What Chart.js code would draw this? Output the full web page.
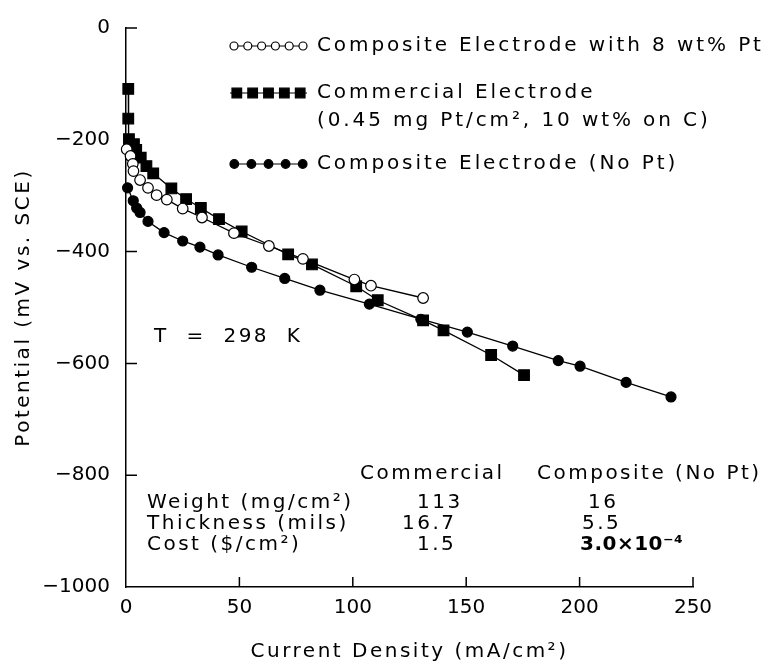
<!DOCTYPE html>
<html>
<head>
<meta charset="utf-8">
<script src="https://cdn.jsdelivr.net/npm/chart.js@4.4.0/dist/chart.umd.min.js"></script>
<style>
  html, body { margin: 0; padding: 0; background: #fff; }
  #wrap { width: 766px; height: 664px; }
</style>
</head>
<body>
<div id="wrap"><canvas id="chart" width="766" height="664"></canvas></div>
<script>
// Composite electrode with 8 wt% Pt (open circles)
const ptCurrent   = [0.3, 2, 3, 3.3, 6.2, 9.7, 13.5, 18, 25, 33.5, 47.6, 63, 78, 100.7, 108, 131]
const ptPotential = [-217, -229, -243, -256, -272, -286, -299, -307, -323, -339, -367, -390, -413, -450, -461, -483]

// Commercial electrode (filled squares)
const comCurrent   = [1, 1, 1.3, 3.5, 4.5, 6.5, 9, 12, 20, 26.5, 33, 41, 51, 71.5, 82, 101.5, 111, 131, 140, 161, 175.5]
const comPotential = [-109, -162, -199, -208, -218, -232, -247, -260, -287, -306, -322, -342, -364, -405, -423, -462, -487, -523, -541, -585, -621]

// Composite electrode, no Pt (filled circles)
const npCurrent   = [0.7, 3.2, 4.7, 6.2, 9.7, 16.8, 25, 32.6, 40.6, 55.4, 70, 85.5, 107.3, 130, 150.5, 170.5, 190.6, 200.2, 220.5, 240.3]
const npPotential = [-286, -309, -322, -330, -346, -366, -381, -392, -406, -428, -448, -469, -494, -521, -544, -569, -595, -605, -634, -660]

const xTicks = [0, 50, 100, 150, 200, 250]
const yTicks = [0, -200, -400, -600, -800, -1000]

const legendLabels = ['Composite Electrode with 8 wt% Pt', 'Commercial Electrode', '(0.45 mg Pt/cm², 10 wt% on C)', 'Composite Electrode (No Pt)']
const tableHeads = ['Commercial', 'Composite (No Pt)']
const rowLabels = ['Weight (mg/cm²)', 'Thickness (mils)', 'Cost ($/cm²)']
const commercialVals = ['113', '16.7', '1.5']
const compositeVals = ['16', '5.5', '3.0×10⁻⁴']
const tempLabel = 'T  =  298  K'
const xTitle = 'Current Density (mA/cm²)'
const yTitle = 'Potential (mV vs. SCE)'

const FONT = '"DejaVu Sans", sans-serif'

const toPoints = (xs, ys) => xs.map((x, i) => ({ x, y: ys[i] }))

function text(ctx, s, x, y, opts = {}) {
	ctx.save()
	ctx.font = `${opts.weight || 'normal'} ${opts.size || 20}px ${FONT}`
	ctx.letterSpacing = (opts.spacing ?? 2.5) + 'px'
	ctx.fillStyle = '#000'
	ctx.textAlign = opts.align || 'left'
	ctx.textBaseline = 'middle'
	ctx.fillText(s, x, y)
	ctx.restore()
}

// ticks point into the plot area, so they are drawn by hand
const inwardTicks = {
	id: 'inwardTicks',
	afterDatasetsDraw(chart) {
		const { ctx, chartArea, scales: { x, y } } = chart
		ctx.save()
		ctx.strokeStyle = '#000'
		ctx.lineWidth = 1.5
		ctx.beginPath()
		xTicks.slice(1).forEach(v => {
			const px = x.getPixelForValue(v)
			ctx.moveTo(px, chartArea.bottom)
			ctx.lineTo(px, chartArea.bottom - 10)
		})
		yTicks.slice(0, -1).forEach(v => {
			const py = y.getPixelForValue(v)
			ctx.moveTo(chartArea.left, py)
			ctx.lineTo(chartArea.left + 11, py)
		})
		ctx.stroke()
		ctx.restore()
	}
}

function legendRow(ctx, style, n, x0, x1, y, radius, fill) {
	ctx.save()
	ctx.strokeStyle = '#000'
	ctx.lineWidth = 1.2
	ctx.beginPath()
	ctx.moveTo(x0, y)
	ctx.lineTo(x1, y)
	ctx.stroke()
	const step = (x1 - x0 - 2 * radius) / (n - 1)
	for (let i = 0; i < n; i++) {
		ctx.fillStyle = fill
		Chart.helpers.drawPoint(ctx, { pointStyle: style, radius, borderWidth: 1.2, rotation: 0 }, x0 + radius + i * step, y)
	}
	ctx.restore()
}

const annotations = {
	id: 'annotations',
	afterDraw(chart) {
		const { ctx, chartArea } = chart

		legendRow(ctx, 'circle', 6, 230, 307, 46, 4, '#fff')
		legendRow(ctx, 'rect', 5, 230, 307, 93, 6.8, '#000')
		legendRow(ctx, 'circle', 5, 230, 307, 164, 4.3, '#000')
		text(ctx, legendLabels[0], 317, 46, { spacing: 2.9 })
		text(ctx, legendLabels[1], 317, 93, { spacing: 2.9 })
		text(ctx, legendLabels[2], 317, 121, { spacing: 2.9 })
		text(ctx, legendLabels[3], 317, 164, { spacing: 2.9 })

		text(ctx, tempLabel, 154, 337)

		text(ctx, tableHeads[0], 360, 474)
		text(ctx, tableHeads[1], 537, 474)
		const rowY = [503, 524, 545]
		const col1 = [417, 402, 417]
		const col2 = [588, 582, 580]
		rowLabels.forEach((s, i) => text(ctx, s, 147, rowY[i]))
		commercialVals.forEach((s, i) => text(ctx, s, col1[i], rowY[i]))
		compositeVals.forEach((s, i) => text(ctx, s, col2[i], rowY[i], { weight: i === 2 ? 'bold' : 'normal', spacing: i === 2 ? 0.5 : 2.5 }))

		text(ctx, xTitle, (chartArea.left + chartArea.right) / 2, 652, { align: 'center' })
		ctx.save()
		ctx.translate(24, (chartArea.top + chartArea.bottom) / 2)
		ctx.rotate(-Math.PI / 2)
		text(ctx, yTitle, 0, 0, { align: 'center' })
		ctx.restore()
	}
}

const lineSet = (data, style, radius, fill) => ({
	data,
	showLine: true,
	borderColor: '#000',
	borderWidth: 1.3,
	pointStyle: style,
	pointRadius: radius,
	pointBackgroundColor: fill,
	pointBorderColor: '#000',
	pointBorderWidth: 1.2,
	tension: 0,
	clip: false
})

const tickFont = { family: FONT, size: 20 }

new Chart(document.getElementById('chart'), {
	type: 'scatter',
	data: {
		datasets: [
			lineSet(toPoints(ptCurrent, ptPotential), 'circle', 5.3, '#fff'),
			lineSet(toPoints(comCurrent, comPotential), 'rect', 7.5, '#000'),
			lineSet(toPoints(npCurrent, npPotential), 'circle', 5, '#000')
		]
	},
	options: {
		responsive: false,
		animation: false,
		devicePixelRatio: 1,
		layout: { padding: { top: 21, right: 73, left: 0, bottom: 0 } },
		plugins: {
			legend: { display: false },
			tooltip: { enabled: false }
		},
		scales: {
			x: {
				type: 'linear',
				min: 0,
				max: 250,
				afterFit: s => { s.height = 77 },
				grid: { display: false, drawTicks: false },
				border: { display: true, color: '#000', width: 1.5 },
				ticks: { stepSize: 50, padding: 9, color: '#000', font: tickFont, maxRotation: 0 }
			},
			y: {
				type: 'linear',
				min: -1000,
				max: 0,
				afterFit: s => { s.width = 126 },
				grid: { display: false, drawTicks: false },
				border: { display: true, color: '#000', width: 1.5 },
				ticks: {
					stepSize: 200,
					padding: 16,
					color: '#000',
					font: tickFont,
					callback: v => v < 0 ? '\u2212' + Math.abs(v) : String(v)
				}
			}
		}
	},
	plugins: [inwardTicks, annotations]
})
</script>
</body>
</html>
